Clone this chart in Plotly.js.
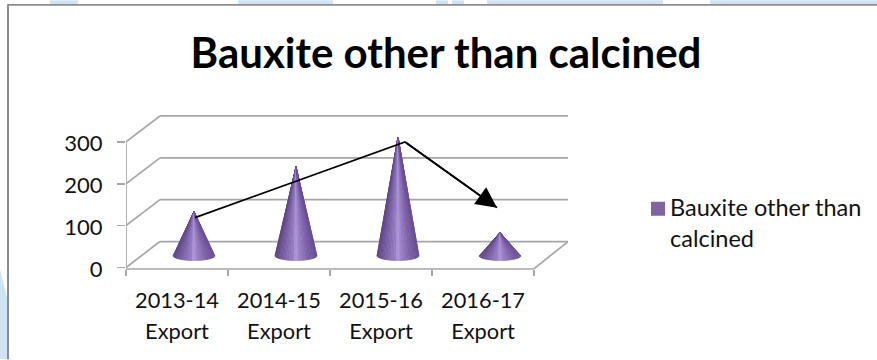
<!DOCTYPE html>
<html>
<head>
<meta charset="utf-8">
<script src="https://cdn.plot.ly/plotly-3.0.1.min.js"></script>
<style>html,body{margin:0;padding:0;background:#fff;overflow:hidden}</style>
</head>
<body>
<div id="chart" style="width:877px;height:360px"></div>
<script>
// Export figures per year
const categories = ['2013-14<br>Export', '2014-15<br>Export', '2015-16<br>Export', '2016-17<br>Export'];
const seriesName = 'Bauxite other than<br>calcined';
const exportValues = [105, 212, 283, 55];
const yTicks = [0, 100, 200, 300];

// Freehand trend arrow, in axis units
const trendX = [0.176, 2.235, 3.137];
const trendY = [119, 300, 143];

// Pseudo-3D box depth and cone proportions, in axis units
const depthX = 0.333, depthY = 62;
const coneRx = 0.206, coneRy = 11.9, coneBaseY = 28.6;

// Shading across a cone, from left edge to right edge
const shadeStops = [-1, -0.6, -0.12, 0, 0.14, 0.6, 1];
const shadeColors = [[92,70,131],[120,93,164],[152,126,196],[182,156,224],[157,132,200],[124,96,168],[104,80,146]];

const FONT = 'Lato, "Open Sans", sans-serif';
const GRID = '#a6a6a6';
const plotL = 126, plotW = 442, plotB = 269.5, plotH = 154.5;
const px = v => (v - plotL) / plotW;
const py = v => (plotB - v) / plotH;
const sized = (size, txt) => txt.split('<br>').map(t => `<span style="font-size:${size}px">${t}</span>`).join('<br>');

function shade(t) {
  let i = 0;
  while (i < shadeStops.length - 2 && t > shadeStops[i + 1]) i++;
  const f = (t - shadeStops[i]) / (shadeStops[i + 1] - shadeStops[i]);
  const c = shadeColors[i].map((a, k) => Math.round(a + (shadeColors[i + 1][k] - a) * f));
  return `rgb(${c.join(',')})`;
}

// Each cone is a fan of thin slices from the tip to the front of its base ellipse
function coneTraces(index, value) {
  const cx = index + depthX / 2, n = 36, out = [];
  for (let s = 0; s < n; s++) {
    const a0 = Math.PI * (1 + s / n), a1 = Math.PI * (1 + (s + 1) / n);
    const pt = a => [cx + coneRx * Math.cos(a), coneBaseY + coneRy * Math.sin(a)];
    const p0 = pt(a0), p1 = pt(a1);
    const col = shade((Math.cos(a0) + Math.cos(a1)) / 2);
    out.push({
      type: 'scatter', mode: 'lines', xaxis: 'x2', yaxis: 'y',
      x: [cx, p0[0], p1[0], cx],
      y: [coneBaseY + value, p0[1], p1[1], coneBaseY + value],
      fill: 'toself', fillcolor: col,
      line: {color: col, width: 0.7},
      showlegend: false, hoverinfo: 'skip'
    });
  }
  return out;
}

const traces = [{
  type: 'bar', x: categories, y: exportValues, width: 0,
  name: sized(23.5, seriesName),
  marker: {color: '#8064a2', line: {width: 0}},
  hoverinfo: 'skip'
}];
exportValues.forEach((v, i) => traces.push(...coneTraces(i, v)));
traces.push({
  type: 'scatter', mode: 'lines', xaxis: 'x2', yaxis: 'y',
  x: trendX, y: trendY, line: {color: '#000', width: 1.8},
  showlegend: false, hoverinfo: 'skip'
});

const gridLine = (x0, y0, x1, y1) => ({
  type: 'line', layer: 'below', xref: 'x2', yref: 'y', x0, y0, x1, y1,
  line: {color: GRID, width: 1.7}
});
const backdrop = (x0, x1, y0, y1) => ({
  type: 'rect', layer: 'below', xref: 'paper', yref: 'paper',
  x0: px(x0), x1: px(x1), y0: py(y0), y1: py(y1),
  fillcolor: '#cfe3f5', line: {width: 0}
});

const shapes = [
  backdrop(50, 78, 0, 4), backdrop(238, 333, 0, 4), backdrop(436, 448, 0, 4),
  backdrop(452, 464, 0, 4), backdrop(487, 663, 0, 4), backdrop(710, 877, 0, 4),
  {
    type: 'path', layer: 'below', xref: 'paper', yref: 'paper',
    path: `M${px(0)},${py(270)} L${px(7)},${py(298)} L${px(7)},${py(360)} L${px(0)},${py(360)} Z`,
    fillcolor: '#cfe3f5', line: {width: 0}
  },
  // Outer chart frame
  {type: 'line', layer: 'below', xref: 'paper', yref: 'paper', x0: px(8), x1: px(877), y0: py(4.5), y1: py(4.5), line: {color: '#8c8c8c', width: 1.6}},
  {type: 'line', layer: 'below', xref: 'paper', yref: 'paper', x0: px(8), x1: px(8), y0: py(4), y1: py(360), line: {color: '#8c8c8c', width: 2}}
];
yTicks.forEach(t => {
  shapes.push(gridLine(-0.5 + depthX, t + depthY, 3.5 + depthX, t + depthY));
  shapes.push(gridLine(-0.5, t, -0.5 + depthX, t + depthY));
});
shapes.push(gridLine(-0.5, yTicks[0], -0.5, yTicks[yTicks.length - 1]));
shapes.push(gridLine(3.5, -3, 3.5 + depthX, yTicks[0] + depthY));
shapes.push({type: 'line', layer: 'below', xref: 'x2', yref: 'paper', x0: -0.5, x1: 3.5, y0: 0, y1: 0, line: {color: GRID, width: 1.7}});

const xRange = [-0.5, 3.5 + depthX];

const layout = {
  width: 877, height: 360,
  margin: {l: plotL, r: 877 - plotL - plotW, t: 115, b: 360 - plotB, pad: 0, autoexpand: false},
  paper_bgcolor: '#ffffff', plot_bgcolor: 'rgba(0,0,0,0)',
  title: {
    text: 'Bauxite other than calcined',
    font: {family: FONT, size: 42, weight: 700, color: '#000'},
    x: 446 / 877, xanchor: 'center', xref: 'container',
    y: 0.812, yanchor: 'bottom', yref: 'container'
  },
  showlegend: true,
  legend: {
    x: px(630), xanchor: 'left', y: py(185), yanchor: 'top', valign: 'top',
    font: {family: FONT, size: 23.8, color: '#111'},
    bgcolor: 'rgba(0,0,0,0)', borderwidth: 0, itemwidth: 30, itemclick: false, itemdoubleclick: false
  },
  xaxis: {
    type: 'category', domain: [0, 1], range: xRange, autorange: false,
    categoryorder: 'array', categoryarray: categories,
    tickson: 'boundaries', ticks: 'outside', ticklen: 6, tickwidth: 1.7, tickcolor: GRID,
    ticklabelstandoff: 14,
    tickfont: {family: FONT, size: 23.8, color: '#111'},
    tickmode: 'array', tickvals: categories,
    ticktext: categories.map(c => sized(21.8, c)),
    showgrid: false, zeroline: false, showline: false, fixedrange: true
  },
  xaxis2: {
    overlaying: 'x', domain: [0, 1], range: xRange, autorange: false, visible: false, fixedrange: true
  },
  yaxis: {
    range: [-1.5 / 0.42, 153 / 0.42], autorange: false,
    tickmode: 'array', tickvals: yTicks, ticktext: yTicks.map(t => sized(22, String(t))),
    ticks: 'outside', ticklen: 8, tickwidth: 1.7, tickcolor: GRID,
    ticklabelstandoff: 9,
    tickfont: {family: FONT, size: 27, color: '#111'},
    showgrid: false, zeroline: false, showline: false, fixedrange: true
  },
  shapes,
  annotations: [{
    xref: 'x2', yref: 'y', axref: 'x2', ayref: 'y',
    x: trendX[2], y: trendY[2], ax: trendX[1], ay: trendY[1],
    showarrow: true, arrowhead: 2, arrowsize: 2.3, arrowwidth: 1.8, arrowcolor: '#000', text: ''
  }]
};

Plotly.newPlot('chart', traces, layout, {displayModeBar: false, staticPlot: true}).then(() => {
  // Bring the swatch closer to its label and to full size
  document.querySelectorAll('#chart .legendsymbols').forEach(n => n.setAttribute('transform', 'translate(8,2)'));
  document.querySelectorAll('#chart .legendsymbols path').forEach(n => {
    n.style.stroke = '#8064a2';
    n.style.strokeWidth = '2px';
  });
});
</script>
</body>
</html>
